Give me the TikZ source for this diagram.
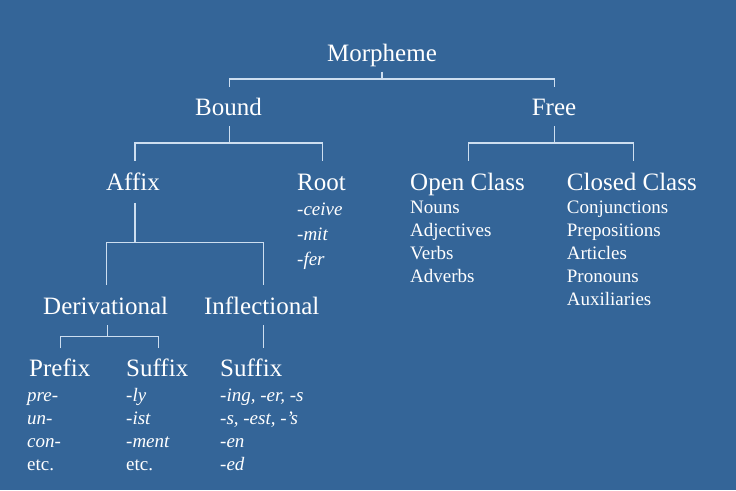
\documentclass[tikz,border=0pt]{standalone}
\usepackage{fontspec}
\setmainfont{Liberation Serif}
\definecolor{bgblue}{RGB}{52,101,152}
\definecolor{linepale}{RGB}{205,222,240}

\begin{document}
\begin{tikzpicture}[x=1pt,y=1pt,yscale=-1,
  head/.style={text=white,font=\fontsize{25}{25}\selectfont,inner sep=0pt,anchor=base},
  headw/.style={head,anchor=base west},
  item/.style={text=white,font=\fontsize{19}{19}\selectfont,inner sep=0pt,anchor=base west},
  itemi/.style={item,font=\fontsize{19}{19}\selectfont\itshape},
  branch/.style={draw=linepale,line width=1.2pt}]
%background, fixes the size
\fill[bgblue] (0,0) rectangle (736,490);

% Text Nodes: headings
\node[head] (morph) at (382,61.7) {Morpheme};
\node[head] (bound) at (228.5,115) {Bound};
\node[head] (free) at (554,115) {Free};
\node[head] (affix) at (133,190) {Affix};
\node[headw] (root) at (297,190) {Root};
\node[headw] (open) at (410,190) {Open Class};
\node[headw] (closed) at (566.7,190) {Closed Class};
\node[head] (deriv) at (105.7,314.3) {Derivational};
\node[head] (infl) at (261.7,314.3) {Inflectional};
\node[headw] (prefix) at (29,376.7) {Prefix};
\node[headw] (dsuffix) at (126,376.7) {Suffix};
\node[headw] (isuffix) at (220,376.7) {Suffix};

% Text Nodes: lists
\foreach \w [count=\i] in {-ceive,-mit,-fer}
  \node[itemi] (root\i) at (297,190+25*\i) {\w};
\foreach \w [count=\i] in {Nouns,Adjectives,Verbs,Adverbs}
  \node[item] (open\i) at (410,190+23*\i) {\w};
\foreach \w [count=\i] in {Conjunctions,Prepositions,Articles,Pronouns,Auxiliaries}
  \node[item] (closed\i) at (566.7,190+23*\i) {\w};
\foreach \w [count=\i] in {pre-,un-,con-}
  \node[itemi] (prefix\i) at (27,378+23*\i) {\w};
\node[item] (prefix4) at (27,470) {etc.};
\foreach \w [count=\i] in {-ly,-ist,-ment}
  \node[itemi] (dsuffix\i) at (126,378+23*\i) {\w};
\node[item] (dsuffix4) at (126,470) {etc.};
\foreach \w [count=\i] in {{-ing, -er, -s},{-s, -est, -’s},-en,-ed}
  \node[itemi] (isuffix\i) at (220,378+23*\i) {\w};

% Branch points
\coordinate (morphS) at (382,71.7);
\coordinate (morphJ) at (382,79);
\coordinate (boundT) at (229.3,87);
\coordinate (freeT) at (554.3,87);
\coordinate (boundS) at (229.3,126);
\coordinate (boundJ) at (229.3,143);
\coordinate (affixT) at (135,160.5);
\coordinate (rootT) at (322.7,160.5);
\coordinate (freeS) at (554.3,126);
\coordinate (freeJ) at (554.3,143);
\coordinate (openT) at (468.3,160.5);
\coordinate (closedT) at (633.3,160.5);
\coordinate (affixS) at (135,203);
\coordinate (affixJ) at (135,242.7);
\coordinate (derivT) at (106.7,285);
\coordinate (inflT) at (263.3,285);
\coordinate (derivS) at (107.3,325);
\coordinate (derivJ) at (107.3,336.7);
\coordinate (prefixT) at (60.7,348.3);
\coordinate (dsuffixT) at (158.3,348.3);
\coordinate (inflS) at (263.3,325);
\coordinate (isuffixT) at (263.3,348.3);

% Straight Lines
\draw[branch] (morphS) -- (morphJ);
\draw[branch] (boundT) |- (morphJ) -| (freeT);
\draw[branch] (boundS) -- (boundJ);
\draw[branch] (affixT) |- (boundJ) -| (rootT);
\draw[branch] (freeS) -- (freeJ);
\draw[branch] (openT) |- (freeJ) -| (closedT);
\draw[branch] (affixS) -- (affixJ);
\draw[branch] (derivT) |- (affixJ) -| (inflT);
\draw[branch] (derivS) -- (derivJ);
\draw[branch] (prefixT) |- (derivJ) -| (dsuffixT);
\draw[branch] (inflS) -- (isuffixT);
\end{tikzpicture}
\end{document}
